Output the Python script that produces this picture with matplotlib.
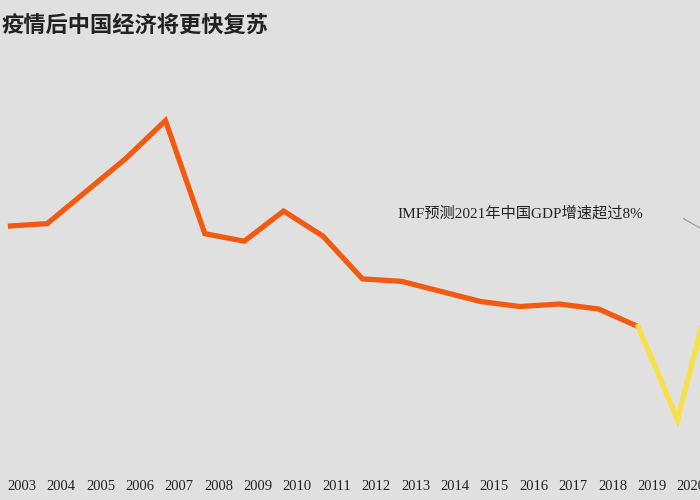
import matplotlib
matplotlib.use("Agg")
import matplotlib.pyplot as plt

plt.rcParams['font.family'] = ['Noto Sans CJK SC', 'DejaVu Sans']

years = list(range(2003, 2022))
gdp = [10.0, 10.1, 11.4, 12.7, 14.2, 9.7, 9.4, 10.6, 9.6, 7.9, 7.8, 7.4, 7.0, 6.8, 6.9, 6.7, 6.0, 2.3, 8.4]
label_years = list(range(2003, 2021))

bg = '#e0e0e0'
fig = plt.figure(figsize=(7, 5), dpi=100, facecolor=bg)
ax = fig.add_axes([0, 0, 1, 1], facecolor=bg)
ax.plot(years[:17], gdp[:17], color='#f25a12', lw=3.8, solid_capstyle='butt', solid_joinstyle='miter')
ax.plot(years[16:], gdp[16:], color='#f7e04a', lw=3.8, solid_joinstyle='miter')
ax.set_xlim(2002.8, 2020.57)
ax.set_ylim(-0.9, 19.0)
for s in ax.spines.values():
    s.set_visible(False)
ax.set_xticks([]); ax.set_yticks([])
for y in label_years:
    ax.text(y + 0.35, -0.35, str(y), ha='center', va='center', fontsize=10.5, color='#222222', family=['Liberation Serif'])
ax.text(2012.9, 10.5, 'IMF预测2021年中国GDP增速超过8%', fontsize=11, color='#222222', va='center',
        family=['Liberation Serif', 'Noto Sans CJK SC'])
ax.plot([2020.15, 2020.6], [10.3, 9.9], color='#999999', lw=0.8)
fig.text(268/700, 1 - 25/500, '疫情后中国经济将更快复苏', ha='right', va='center', fontsize=16, fontweight='bold', color='#222222')
fig.savefig('out.png', dpi=100, facecolor=bg)
